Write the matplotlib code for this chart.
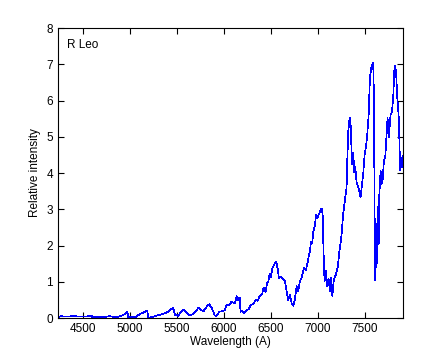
#Espectro de R Leo, intensidad relativa contra longitud de onda.
import numpy as np
import matplotlib
matplotlib.use('Agg')
import matplotlib.pyplot as plt

#Longitudes de onda (A).
longitudes = [4237, 4260, 4320, 4400, 4480, 4520, 4574, 4590, 4600, 4713, 4784, 4858,
              4929, 4972, 4982, 5053, 5106, 5184, 5195, 5266, 5355, 5408, 5425, 5461,
              5479, 5497, 5514, 5530, 5567, 5580, 5620, 5635, 5673, 5725, 5737, 5780,
              5830, 5844, 5870, 5886, 5900, 5915, 5955, 5975, 6010, 6028, 6060, 6081,
              6117, 6135, 6152, 6167, 6177, 6195, 6216, 6241, 6266, 6287, 6312, 6337,
              6358, 6383, 6407, 6422, 6443, 6457, 6471, 6486, 6500, 6514, 6535, 6556,
              6571, 6585, 6606, 6631, 6649, 6667, 6684, 6702, 6720, 6737, 6755, 6773,
              6790, 6808, 6826, 6851, 6872, 6886, 6901, 6915, 6925, 6939, 6950, 6968,
              6979, 6993, 7007, 7021, 7039, 7050, 7064, 7071, 7085, 7099, 7114, 7128,
              7142, 7153, 7170, 7191, 7213, 7227, 7241, 7252, 7269, 7287, 7305, 7312,
              7323, 7333, 7344, 7351, 7362, 7376, 7386, 7397, 7412, 7425, 7439, 7454,
              7465, 7482, 7497, 7511, 7525, 7540, 7553, 7567, 7582, 7588, 7596, 7603,
              7610, 7617, 7624, 7638, 7646, 7652, 7667, 7674, 7688, 7702, 7716, 7731,
              7741, 7752, 7759, 7773, 7787, 7801, 7812, 7822, 7833, 7844, 7858, 7869,
              7872, 7883, 7893, 7904]

#Intensidad relativa.
intensidades = [0.02, 0.05, 0.04, 0.05, 0.04, 0.04, 0.05, 0.07, 0.02, 0.02, 0.05, 0.02,
                0.08, 0.17, 0.02, 0.02, 0.11, 0.20, 0.00, 0.05, 0.12, 0.17, 0.22, 0.28,
                0.07, 0.08, 0.05, 0.12, 0.22, 0.22, 0.11, 0.08, 0.11, 0.27, 0.27, 0.18,
                0.36, 0.38, 0.27, 0.18, 0.08, 0.05, 0.18, 0.18, 0.22, 0.36, 0.36, 0.45,
                0.40, 0.60, 0.49, 0.57, 0.17, 0.20, 0.14, 0.20, 0.26, 0.36, 0.38, 0.51,
                0.47, 0.62, 0.67, 0.84, 0.72, 0.95, 1.00, 1.23, 1.14, 1.37, 1.48, 1.56,
                1.37, 1.10, 1.13, 1.07, 1.01, 0.73, 0.50, 0.64, 0.41, 0.34, 0.52, 0.88,
                0.75, 1.02, 1.11, 1.38, 1.33, 1.47, 1.70, 1.83, 2.11, 2.06, 2.38, 2.56,
                2.84, 2.75, 2.84, 2.93, 3.02, 2.86, 1.38, 1.02, 1.29, 0.88, 1.07, 0.75,
                1.11, 0.61, 1.07, 1.20, 1.43, 1.83, 2.06, 2.33, 2.88, 3.24, 3.61, 4.34,
                5.16, 5.44, 5.53, 5.16, 4.25, 4.57, 4.02, 4.16, 3.74, 3.65, 3.52, 3.33,
                3.61, 3.98, 4.52, 4.71, 5.07, 5.62, 6.63, 6.90, 7.00, 7.04, 6.08, 2.88,
                1.05, 2.60, 1.41, 3.06, 2.05, 3.33, 4.07, 3.70, 3.79, 4.34, 4.43, 5.07,
                5.53, 4.98, 5.16, 5.62, 5.67, 6.08, 6.81, 6.95, 6.72, 6.08, 5.62, 4.71,
                4.07, 4.43, 4.16, 4.48]

plt.rcParams['font.family'] = ['Liberation Sans', 'DejaVu Sans']
fig = plt.figure(figsize=(4.45, 3.57), dpi=100)
ax = fig.add_axes([0.1303, 0.1092, 0.7753, 0.8123])

#Dibujamos el espectro (linea fina, sin suavizado).
ax.plot(longitudes, intensidades, color=(0, 0, 1), linewidth=0.5, antialiased=False)

ax.set_xlim(4234, 7905)
ax.set_ylim(0, 8)
ax.set_xticks(np.arange(4500, 7501, 500))
ax.set_yticks(np.arange(0, 9, 1))
ax.tick_params(direction='in', top=True, right=True, length=4, labelsize=8.5)

ax.set_xlabel('Wavelength (A)', fontsize=8.5, labelpad=1)
ax.set_ylabel('Relative intensity', fontsize=8.5, labelpad=4)
ax.text(0.026, 0.94, 'R Leo', transform=ax.transAxes, fontsize=8.5, va='center')

fig.savefig('out.png', dpi=100)
